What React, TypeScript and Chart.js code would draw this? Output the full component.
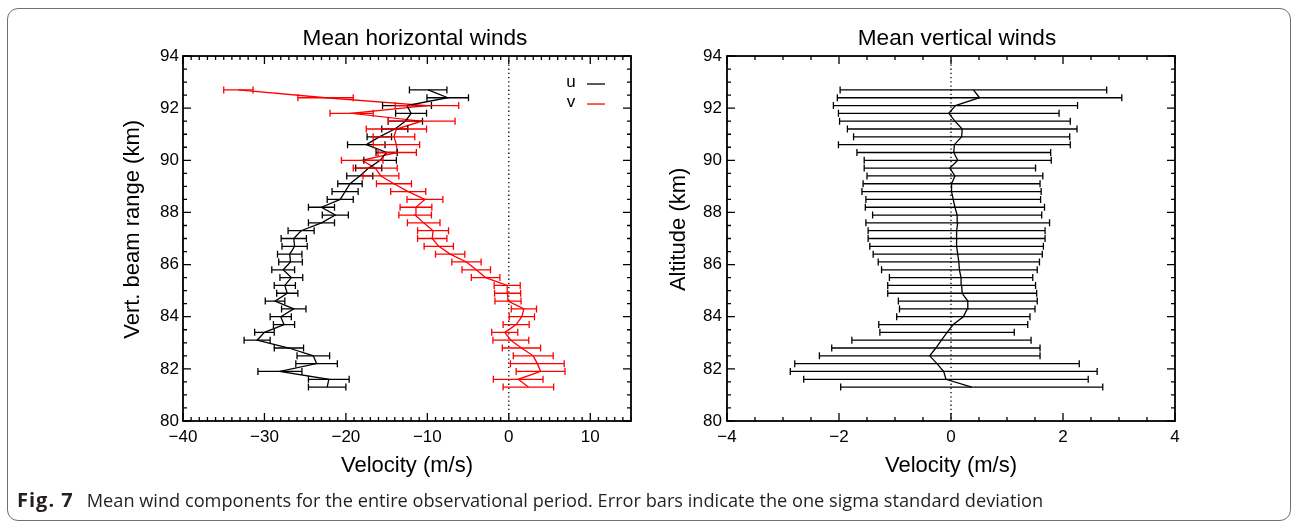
import React, { useEffect, useRef } from "react";
import { Chart, registerables } from "chart.js";

Chart.register(...registerables);

// ---------- data (bottom -> top) ----------
const ALTITUDE_KM = [
  81.3, 81.6, 81.9, 82.2, 82.5, 82.8, 83.1, 83.4, 83.7, 84.0, 84.3, 84.6, 84.9,
  85.2, 85.5, 85.8, 86.1, 86.4, 86.7, 87.0, 87.3, 87.6, 87.9, 88.2, 88.5, 88.8,
  89.1, 89.4, 89.7, 90.0, 90.3, 90.6, 90.9, 91.2, 91.5, 91.8, 92.1, 92.4, 92.7,
];

const U_WIND = [
  -22.3, -22.1, -28.1, -23.6, -24.0, -27.0, -30.9, -30.0, -27.6, -28.0, -26.4, -28.7, -27.2,
  -27.5, -26.7, -27.7, -26.8, -26.9, -26.3, -26.4, -25.5, -23.0, -21.3, -23.0, -20.7, -20.1,
  -19.5, -18.3, -17.2, -15.8, -15.0, -17.5, -15.9, -14.0, -12.7, -12.0, -12.5, -7.5, -9.9,
];
const U_SIGMA = [
  2.3, 2.5, 2.7, 2.55, 2.0, 1.8, 1.6, 1.2, 1.3, 1.3, 1.5, 1.2, 1.3,
  1.3, 1.4, 1.4, 1.45, 1.5, 1.55, 1.55, 1.6, 1.6, 1.6, 1.6, 1.6, 1.6,
  1.5, 1.6, 1.6, 2.0, 1.3, 2.3, 1.5, 1.6, 2.1, 1.9, 3.0, 2.55, 2.3,
];

const V_WIND = [
  2.4, 1.15, 3.9, 3.5, 3.0, 1.55, 0.25, -0.5, 0.9, 1.6, 1.85, -0.1, -0.15,
  -0.2, -2.85, -4.0, -5.2, -7.2, -8.6, -9.4, -9.3, -10.45, -11.5, -11.4, -10.3, -12.35,
  -14.1, -15.7, -16.4, -18.0, -13.7, -13.8, -14.1, -13.8, -10.7, -19.3, -10.05, -22.5, -33.2,
];
const V_SIGMA = [
  3.1, 3.05, 3.0, 3.3, 2.45, 2.35, 2.2, 1.6, 1.6, 1.55, 1.55, 1.6, 1.6,
  1.6, 1.75, 1.75, 1.8, 1.8, 1.8, 1.8, 1.9, 2.0, 2.0, 1.95, 2.2, 2.15,
  2.15, 2.2, 2.7, 2.55, 2.35, 2.85, 2.55, 3.7, 4.1, 2.65, 3.9, 3.4, 1.8,
];

const W_WIND = [
  0.37, -0.09, -0.13, -0.25, -0.38, -0.27, -0.17, -0.07, 0.04, 0.22, 0.29, 0.3, 0.2,
  0.19, 0.18, 0.15, 0.14, 0.12, 0.1, 0.1, 0.1, 0.12, 0.11, 0.07, 0.04, 0.01,
  0.01, 0.07, -0.02, 0.12, 0.05, 0.06, 0.19, 0.2, 0.07, -0.04, 0.08, 0.51, 0.4,
];
const W_SIGMA = [
  2.34, 2.54, 2.74, 2.54, 1.97, 1.86, 1.6, 1.2, 1.33, 1.19, 1.21, 1.24, 1.33,
  1.32, 1.28, 1.39, 1.44, 1.51, 1.55, 1.58, 1.58, 1.64, 1.51, 1.6, 1.56, 1.6,
  1.58, 1.57, 1.53, 1.67, 1.73, 2.07, 1.93, 2.05, 2.06, 1.97, 2.18, 2.54, 2.38,
];

const ALT_TICKS = [80, 82, 84, 86, 88, 90, 92, 94];
const H_VEL_TICKS = [-40, -30, -20, -10, 0, 10];
const W_VEL_TICKS = [-4, -2, 0, 2, 4];

const FONT = "'Liberation Sans', Arial, Helvetica, sans-serif";

type Series = { label: string; values: number[]; sigma: number[]; color: string };

const fmt = (v: number) => (v < 0 ? "\u2212" + Math.abs(v) : String(v));

function makePlugin(cfg: {
  series: Series[];
  xMinor: number;
  xMajor: number;
  yMinor: number;
  yMajor: number;
  legend: boolean;
}) {
  return {
    id: "frameAndErrors",
    beforeDatasetsDraw(chart: any) {
      const { ctx, chartArea: a, scales } = chart;
      const x0 = scales.x.getPixelForValue(0);
      ctx.save();
      ctx.strokeStyle = "#000";
      ctx.lineWidth = 1.3;
      ctx.setLineDash([1.3, 2.9]);
      ctx.beginPath();
      ctx.moveTo(x0, a.top);
      ctx.lineTo(x0, a.bottom);
      ctx.stroke();
      ctx.restore();
    },
    afterDatasetsDraw(chart: any) {
      const { ctx, chartArea: a, scales } = chart;
      const xs = scales.x;
      const ys = scales.y;
      ctx.save();
      // error bars
      ctx.lineWidth = 1.3;
      for (const s of cfg.series) {
        ctx.strokeStyle = s.color;
        ctx.beginPath();
        ALTITUDE_KM.forEach((h, i) => {
          const y = ys.getPixelForValue(h);
          const xl = xs.getPixelForValue(s.values[i] - s.sigma[i]);
          const xr = xs.getPixelForValue(s.values[i] + s.sigma[i]);
          ctx.moveTo(xl, y);
          ctx.lineTo(xr, y);
          ctx.moveTo(xl, y - 3.5);
          ctx.lineTo(xl, y + 3.5);
          ctx.moveTo(xr, y - 3.5);
          ctx.lineTo(xr, y + 3.5);
        });
        ctx.stroke();
      }
      // axis box
      ctx.strokeStyle = "#000";
      ctx.lineWidth = 1.8;
      ctx.strokeRect(a.left, a.top, a.right - a.left, a.bottom - a.top);
      // ticks
      ctx.lineWidth = 1.3;
      ctx.beginPath();
      const nx = Math.round((xs.max - xs.min) / cfg.xMinor);
      for (let i = 0; i <= nx; i++) {
        const v = xs.min + i * cfg.xMinor;
        const major = Math.abs(v / cfg.xMajor - Math.round(v / cfg.xMajor)) < 1e-6;
        const len = major ? 8 : 4;
        const px = xs.getPixelForValue(v);
        ctx.moveTo(px, a.bottom);
        ctx.lineTo(px, a.bottom - len);
        ctx.moveTo(px, a.top);
        ctx.lineTo(px, a.top + len);
      }
      const ny = Math.round((ys.max - ys.min) / cfg.yMinor);
      for (let i = 0; i <= ny; i++) {
        const v = ys.min + i * cfg.yMinor;
        const major = Math.abs(v / cfg.yMajor - Math.round(v / cfg.yMajor)) < 1e-6;
        const len = major ? 8 : 4;
        const py = ys.getPixelForValue(v);
        ctx.moveTo(a.left, py);
        ctx.lineTo(a.left + len, py);
        ctx.moveTo(a.right, py);
        ctx.lineTo(a.right - len, py);
      }
      ctx.stroke();
      // legend
      if (cfg.legend) {
        ctx.font = "17px " + FONT;
        ctx.textAlign = "center";
        ctx.textBaseline = "alphabetic";
        cfg.series.forEach((s, k) => {
          const ty = a.top + 31 + k * 20;
          ctx.fillStyle = "#000";
          ctx.fillText(s.label, a.right - 60, ty);
          ctx.strokeStyle = s.color;
          ctx.lineWidth = 1.3;
          ctx.beginPath();
          ctx.moveTo(a.right - 44, ty - 3);
          ctx.lineTo(a.right - 26, ty - 3);
          ctx.stroke();
        });
      }
      ctx.restore();
    },
  };
}

function buildChart(
  canvas: HTMLCanvasElement,
  opts: {
    title: string;
    yTitle: string;
    series: Series[];
    xMin: number;
    xMax: number;
    xTicks: number[];
    xMinor: number;
    xMajor: number;
    yWidth: number;
    y2Width: number;
    yTitlePad: number;
    yTickPad: number;
    legend: boolean;
  }
) {
  return new Chart(canvas, {
    type: "line",
    data: {
      datasets: opts.series.map((s) => ({
        label: s.label,
        data: ALTITUDE_KM.map((h, i) => ({ x: s.values[i], y: h })),
        borderColor: s.color,
        backgroundColor: s.color,
        borderWidth: 1.3,
        pointRadius: 0,
        tension: 0,
        fill: false,
      })),
    },
    options: {
      animation: false,
      responsive: false,
      maintainAspectRatio: false,
      layout: { padding: 0 },
      plugins: {
        legend: { display: false },
        tooltip: { enabled: false },
        title: {
          display: true,
          text: opts.title,
          color: "#000",
          font: { family: FONT, size: 22.6, weight: "normal" },
          padding: { top: 25, bottom: 3.9 },
        },
      },
      scales: {
        x: {
          type: "linear",
          position: "bottom",
          min: opts.xMin,
          max: opts.xMax,
          afterBuildTicks: (s: any) => {
            s.ticks = opts.xTicks.map((v) => ({ value: v }));
          },
          afterFit: (s: any) => {
            s.height = 100;
          },
          ticks: {
            color: "#000",
            font: { family: FONT, size: 17 },
            padding: 6,
            maxRotation: 0,
            autoSkip: false,
            callback: (v: any) => fmt(Number(v)),
          },
          grid: { display: false, drawTicks: false },
          border: { display: false },
          title: {
            display: true,
            text: "Velocity (m/s)",
            color: "#000",
            font: { family: FONT, size: 22 },
            padding: { top: 0, bottom: 41.8 },
          },
        },
        y: {
          type: "linear",
          position: "left",
          min: 80,
          max: 94,
          afterBuildTicks: (s: any) => {
            s.ticks = ALT_TICKS.map((v) => ({ value: v }));
          },
          afterFit: (s: any) => {
            s.width = opts.yWidth;
          },
          ticks: {
            color: "#000",
            font: { family: FONT, size: 17 },
            padding: opts.yTickPad,
            autoSkip: false,
          },
          grid: { display: false, drawTicks: false },
          border: { display: false },
          title: {
            display: true,
            text: "   " + opts.yTitle,
            color: "#000",
            font: { family: FONT, size: 22 },
            padding: { top: opts.yTitlePad, bottom: 0 },
          },
        },
        y2: {
          type: "linear",
          position: "right",
          min: 80,
          max: 94,
          afterFit: (s: any) => {
            s.width = opts.y2Width;
          },
          ticks: { display: false },
          grid: { display: false, drawTicks: false },
          border: { display: false },
        },
      },
    } as any,
    plugins: [
      makePlugin({
        series: opts.series,
        xMinor: opts.xMinor,
        xMajor: opts.xMajor,
        yMinor: 0.5,
        yMajor: 2,
        legend: opts.legend,
      }),
    ],
  });
}

export default function App() {
  const leftRef = useRef<HTMLCanvasElement>(null);
  const rightRef = useRef<HTMLCanvasElement>(null);

  useEffect(() => {
    const left = buildChart(leftRef.current!, {
      title: "Mean horizontal winds",
      yTitle: "Vert. beam range (km)",
      series: [
        { label: "u", values: U_WIND, sigma: U_SIGMA, color: "#000000" },
        { label: "v", values: V_WIND, sigma: V_SIGMA, color: "#ff0000" },
      ],
      xMin: -40,
      xMax: 15,
      xTicks: H_VEL_TICKS,
      xMinor: 1,
      xMajor: 10,
      yWidth: 183,
      y2Width: 199,
      yTitlePad: 119.8,
      yTickPad: 4,
      legend: true,
    });
    const right = buildChart(rightRef.current!, {
      title: "Mean vertical winds",
      yTitle: "Altitude (km)",
      series: [{ label: "w", values: W_WIND, sigma: W_SIGMA, color: "#000000" }],
      xMin: -4,
      xMax: 4,
      xTicks: W_VEL_TICKS,
      xMinor: 0.5,
      xMajor: 2,
      yWidth: 87,
      y2Width: 99,
      yTitlePad: 25.8,
      yTickPad: 5,
      legend: false,
    });
    return () => {
      left.destroy();
      right.destroy();
    };
  }, []);

  return (
    <div
      style={{
        position: "absolute",
        left: 0,
        top: 0,
        width: 1291,
        height: 521,
        background: "#fff",
        overflow: "hidden",
      }}
    >
      <div
        style={{
          position: "absolute",
          left: 7,
          top: 8,
          width: 1284,
          height: 513,
          boxSizing: "border-box",
          border: "1px solid #707070",
          borderRadius: 11,
        }}
      />
      <canvas
        ref={leftRef}
        width={830}
        height={521}
        style={{ position: "absolute", left: 0, top: 0, width: 830, height: 521 }}
      />
      <canvas
        ref={rightRef}
        width={634}
        height={521}
        style={{ position: "absolute", left: 640, top: 0, width: 634, height: 521 }}
      />
      <div
        style={{
          position: "absolute",
          left: 17,
          top: 490,
          fontFamily: "'Open Sans', sans-serif",
          fontSize: 18.2,
          lineHeight: 1,
          color: "#231f20",
          whiteSpace: "nowrap",
        }}
      >
        <b style={{ fontSize: 20, letterSpacing: 1 }}>Fig. 7</b>
        <span style={{ marginLeft: 13 }}>
          Mean wind components for the entire observational period. Error bars indicate the one
          sigma standard deviation
        </span>
      </div>
    </div>
  );
}
